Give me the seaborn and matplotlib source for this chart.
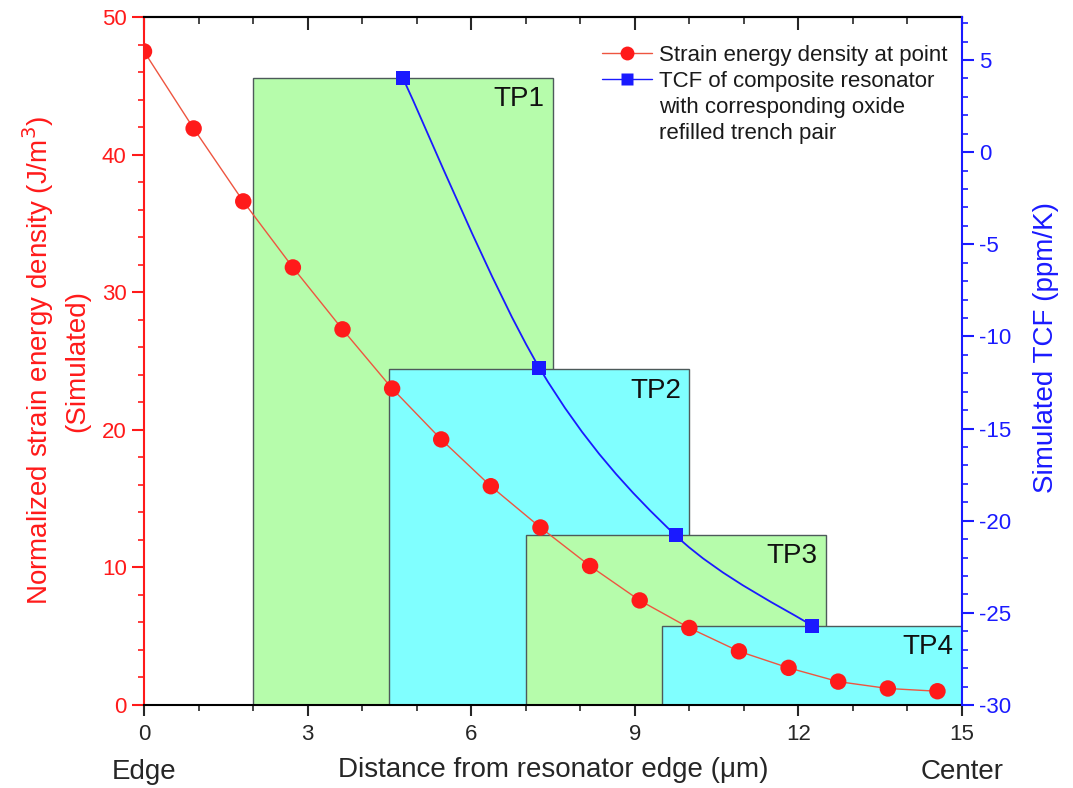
import numpy as np
import pandas as pd
import matplotlib
matplotlib.use("Agg")
import matplotlib.pyplot as plt
from matplotlib.path import Path
from matplotlib.patches import PathPatch
from matplotlib.lines import Line2D
from matplotlib.ticker import MultipleLocator
import seaborn as sns

# ---------------- data ----------------
pos_um = [0.0, 0.91, 1.82, 2.73, 3.64, 4.55, 5.45, 6.36, 7.27, 8.18, 9.09,
          10.0, 10.91, 11.82, 12.73, 13.64, 14.55]
strain_energy = [47.5, 41.9, 36.6, 31.8, 27.3, 23.0, 19.3, 15.9, 12.9, 10.1,
                 7.6, 5.6, 3.9, 2.7, 1.7, 1.2, 1.0]

tp_labels = ["TP1", "TP2", "TP3", "TP4"]
tp_start = [2.0, 4.5, 7.0, 9.5]
tp_width = [5.5, 5.5, 5.5, 5.5]
tp_height = [45.6, 24.4, 12.35, 5.75]
tp_colors = ["#b6fcab", "#80ffff", "#b6fcab", "#80ffff"]

tcf_pos = [4.75, 7.25, 9.75, 12.25]
tcf_value = [4.0, -11.7, -20.8, -25.7]

x_ticks = [0, 3, 6, 9, 12, 15]
left_ticks = [0, 10, 20, 30, 40, 50]
right_ticks = [5, 0, -5, -10, -15, -20, -25, -30]

legend_lines = ["Strain energy density at point", "TCF of composite resonator",
                "with corresponding oxide", "refilled trench pair"]

RED = "#ff1a1a"
LINE_RED = "#ee5540"
BLUE = "#1a1aff"

sns.set_style("ticks")
plt.rcParams["font.family"] = ["Liberation Sans", "DejaVu Sans"]
plt.rcParams["axes.unicode_minus"] = False

fig = plt.figure(figsize=(10.73, 7.88), dpi=100)
ax = fig.add_axes([144 / 1073, 1 - 705 / 788, (962 - 144) / 1073, (705 - 17) / 788])

# trench-pair rectangles
for i in range(len(tp_labels)):
    ax.bar(tp_start[i], tp_height[i], width=tp_width[i], align="edge",
           color=tp_colors[i], edgecolor="#4d5a5a", linewidth=1.0, zorder=1 + i * 0.1)
    ax.annotate(tp_labels[i], xy=(tp_start[i] + tp_width[i], tp_height[i]),
                xytext=(-6, -6), textcoords="offset points", ha="right", va="top",
                fontsize=20, color="#111111", zorder=3)

df_red = pd.DataFrame({"x": pos_um, "y": strain_energy})
sns.lineplot(data=df_red, x="x", y="y", ax=ax, color=LINE_RED, linewidth=1.0,
             zorder=5, clip_on=True)
sns.scatterplot(data=df_red, x="x", y="y", ax=ax, color=RED, s=140, marker="o",
                edgecolor="none", zorder=6, clip_on=True)

ax.set_xlim(0, 15)
ax.set_ylim(0, 50)
ax.set_xticks(x_ticks)
ax.xaxis.set_minor_locator(MultipleLocator(1))
ax.set_yticks(left_ticks)
ax.yaxis.set_minor_locator(MultipleLocator(2))
ax.tick_params(axis="x", which="major", direction="out", length=8, width=1.5,
               labelsize=16, top=False, pad=6)
ax.tick_params(axis="x", which="minor", direction="out", length=4.5, width=1.2, top=False)
ax.tick_params(axis="y", which="major", direction="out", length=8.5, width=1.5,
               labelsize=16, colors=RED, pad=4)
ax.tick_params(axis="y", which="minor", direction="out", length=4.5, width=1.2, colors=RED)
ax.spines["left"].set_color(RED)
ax.spines["left"].set_linewidth(1.5)
ax.spines["right"].set_visible(False)
for s in ["top", "bottom"]:
    ax.spines[s].set_linewidth(1.5)
    ax.spines[s].set_color("black")

# inward ticks on the top edge
top = ax.secondary_xaxis("top")
top.set_xticks(x_ticks)
top.xaxis.set_minor_locator(MultipleLocator(1))
top.tick_params(axis="x", which="major", direction="in", length=9, width=1.5, labeltop=False)
top.tick_params(axis="x", which="minor", direction="in", length=5, width=1.2)
top.spines["top"].set_linewidth(1.5)

ax.set_xlabel("Distance from resonator edge (\u03bcm)", fontsize=20, labelpad=8)
ax.set_ylabel("Normalized strain energy density (J/m$^3$)\n(Simulated)",
              fontsize=20, color=RED, labelpad=8, linespacing=1.45)
ax.text(0, -0.078, "Edge", transform=ax.get_xaxis_transform(), ha="center",
        va="top", fontsize=20)
ax.text(15, -0.078, "Center", transform=ax.get_xaxis_transform(), ha="center",
        va="top", fontsize=20)

# secondary axis: TCF
ax2 = ax.twinx()
ax2.set_ylim(-30, 7.33)
ax2.set_yticks(right_ticks)
ax2.yaxis.set_minor_locator(MultipleLocator(1))
ax2.tick_params(axis="y", which="major", direction="out", length=8.5, width=1.5,
                labelsize=16, colors=BLUE, pad=4)
ax2.tick_params(axis="y", which="minor", direction="out", length=4.5, width=1.2, colors=BLUE)
ax2.spines["right"].set_color(BLUE)
ax2.spines["right"].set_linewidth(1.5)
ax2.spines["left"].set_visible(False)
ax2.spines["top"].set_visible(False)
ax2.spines["bottom"].set_visible(False)
ax2.set_ylabel("Simulated TCF (ppm/K)", fontsize=20, color=BLUE)
ax2.yaxis.set_label_coords(1.087, 0.52)

# smooth curve (Catmull-Rom -> cubic Bezier) through the TCF points
P = np.column_stack([tcf_pos, tcf_value])
Pe = np.vstack([P[0], P, P[-1]])
verts = [tuple(P[0])]
codes = [Path.MOVETO]
for i in range(len(P) - 1):
    p0, p1, p2, p3 = Pe[i], Pe[i + 1], Pe[i + 2], Pe[i + 3]
    c1 = p1 + (p2 - p0) / 6.0
    c2 = p2 - (p3 - p1) / 6.0
    verts += [tuple(c1), tuple(c2), tuple(p2)]
    codes += [Path.CURVE4, Path.CURVE4, Path.CURVE4]
ax2.add_patch(PathPatch(Path(verts, codes), facecolor="none", edgecolor=BLUE,
                        linewidth=1.3, zorder=5))
df_blue = pd.DataFrame({"x": tcf_pos, "y": tcf_value})
sns.scatterplot(data=df_blue, x="x", y="y", ax=ax2, color=BLUE, s=100, marker="s",
                edgecolor="none", zorder=6)
ax2.set_xlim(0, 15)

h1 = Line2D([], [], color=LINE_RED, lw=1.0, marker="o", markersize=10,
            markerfacecolor=RED, markeredgecolor="none")
h2 = Line2D([], [], color=BLUE, lw=1.0, marker="s", markersize=8,
            markerfacecolor=BLUE, markeredgecolor="none")
h_blank = Line2D([], [], color="none", lw=0)
leg = ax2.legend([h1, h2, h_blank, h_blank], legend_lines,
                 loc="upper left", bbox_to_anchor=(602 / 1073, 1 - 45 / 788),
                 bbox_transform=fig.transFigure, frameon=False, fontsize=16,
                 handlelength=2.25, handletextpad=0.3, labelspacing=0.22,
                 borderaxespad=0, borderpad=0)
for t in leg.get_texts():
    t.set_color("#1a1a1a")

fig.savefig("out.png", dpi=100)
